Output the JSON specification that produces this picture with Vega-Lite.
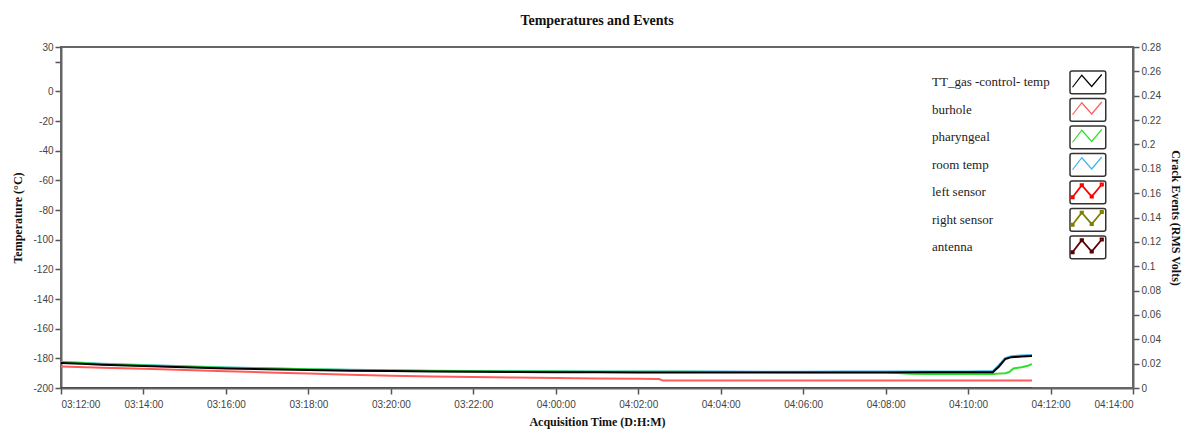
{
  "$schema": "https://vega.github.io/schema/vega-lite/v6.json",
  "width": 1072,
  "height": 341,
  "autosize": {"type": "none"},
  "padding": {"left": 61, "top": 47, "right": 54, "bottom": 45},
  "title": {"text": "Temperatures and Events", "font": "Liberation Serif", "fontSize": 14, "fontWeight": "bold", "color": "#111", "offset": 14, "anchor": "middle"},
  "datasets": {
    "temps": [
      {"t": "2000-01-03T12:00:00Z", "series": "burhole", "v": -185.5},
      {"t": "2000-01-03T13:00:00Z", "series": "burhole", "v": -186.3},
      {"t": "2000-01-03T14:00:00Z", "series": "burhole", "v": -187.1},
      {"t": "2000-01-03T15:00:00Z", "series": "burhole", "v": -187.9},
      {"t": "2000-01-03T16:00:00Z", "series": "burhole", "v": -188.7},
      {"t": "2000-01-03T17:00:00Z", "series": "burhole", "v": -189.5},
      {"t": "2000-01-03T18:00:00Z", "series": "burhole", "v": -190.3},
      {"t": "2000-01-03T19:00:00Z", "series": "burhole", "v": -191.0},
      {"t": "2000-01-03T20:00:00Z", "series": "burhole", "v": -191.7},
      {"t": "2000-01-03T21:00:00Z", "series": "burhole", "v": -192.2},
      {"t": "2000-01-03T22:00:00Z", "series": "burhole", "v": -192.6},
      {"t": "2000-01-03T23:00:00Z", "series": "burhole", "v": -193.0},
      {"t": "2000-01-04T00:00:00Z", "series": "burhole", "v": -193.3},
      {"t": "2000-01-04T01:00:00Z", "series": "burhole", "v": -193.6},
      {"t": "2000-01-04T02:00:00Z", "series": "burhole", "v": -193.8},
      {"t": "2000-01-04T02:30:00Z", "series": "burhole", "v": -193.9},
      {"t": "2000-01-04T02:36:00Z", "series": "burhole", "v": -195.0},
      {"t": "2000-01-04T04:00:00Z", "series": "burhole", "v": -195.0},
      {"t": "2000-01-04T08:00:00Z", "series": "burhole", "v": -195.0},
      {"t": "2000-01-04T11:33:00Z", "series": "burhole", "v": -195.0},

      {"t": "2000-01-03T12:00:00Z", "series": "room temp", "v": -182.4},
      {"t": "2000-01-03T12:30:00Z", "series": "room temp", "v": -183.0},
      {"t": "2000-01-03T13:00:00Z", "series": "room temp", "v": -183.6},
      {"t": "2000-01-03T14:00:00Z", "series": "room temp", "v": -184.5},
      {"t": "2000-01-03T15:00:00Z", "series": "room temp", "v": -185.4},
      {"t": "2000-01-03T16:00:00Z", "series": "room temp", "v": -186.2},
      {"t": "2000-01-03T17:00:00Z", "series": "room temp", "v": -186.7},
      {"t": "2000-01-03T18:00:00Z", "series": "room temp", "v": -187.3},
      {"t": "2000-01-03T19:00:00Z", "series": "room temp", "v": -187.7},
      {"t": "2000-01-03T20:00:00Z", "series": "room temp", "v": -188.0},
      {"t": "2000-01-03T21:00:00Z", "series": "room temp", "v": -188.3},
      {"t": "2000-01-03T22:00:00Z", "series": "room temp", "v": -188.5},
      {"t": "2000-01-03T23:00:00Z", "series": "room temp", "v": -188.6},
      {"t": "2000-01-04T00:00:00Z", "series": "room temp", "v": -188.7},
      {"t": "2000-01-04T01:00:00Z", "series": "room temp", "v": -188.8},
      {"t": "2000-01-04T02:00:00Z", "series": "room temp", "v": -188.9},
      {"t": "2000-01-04T03:00:00Z", "series": "room temp", "v": -188.9},
      {"t": "2000-01-04T04:00:00Z", "series": "room temp", "v": -188.9},
      {"t": "2000-01-04T05:00:00Z", "series": "room temp", "v": -189.0},
      {"t": "2000-01-04T06:00:00Z", "series": "room temp", "v": -189.0},
      {"t": "2000-01-04T07:00:00Z", "series": "room temp", "v": -188.9},
      {"t": "2000-01-04T08:00:00Z", "series": "room temp", "v": -188.9},
      {"t": "2000-01-04T09:00:00Z", "series": "room temp", "v": -188.8},
      {"t": "2000-01-04T10:00:00Z", "series": "room temp", "v": -188.8},
      {"t": "2000-01-04T10:36:00Z", "series": "room temp", "v": -188.6},
      {"t": "2000-01-04T10:45:00Z", "series": "room temp", "v": -184.5},
      {"t": "2000-01-04T10:54:00Z", "series": "room temp", "v": -179.8},
      {"t": "2000-01-04T11:03:00Z", "series": "room temp", "v": -178.5},
      {"t": "2000-01-04T11:18:00Z", "series": "room temp", "v": -178.0},
      {"t": "2000-01-04T11:33:00Z", "series": "room temp", "v": -177.7},

      {"t": "2000-01-03T12:00:00Z", "series": "pharyngeal", "v": -182.6},
      {"t": "2000-01-03T12:30:00Z", "series": "pharyngeal", "v": -183.2},
      {"t": "2000-01-03T13:00:00Z", "series": "pharyngeal", "v": -183.9},
      {"t": "2000-01-03T14:00:00Z", "series": "pharyngeal", "v": -184.8},
      {"t": "2000-01-03T15:00:00Z", "series": "pharyngeal", "v": -185.6},
      {"t": "2000-01-03T16:00:00Z", "series": "pharyngeal", "v": -186.3},
      {"t": "2000-01-03T17:00:00Z", "series": "pharyngeal", "v": -186.8},
      {"t": "2000-01-03T18:00:00Z", "series": "pharyngeal", "v": -187.4},
      {"t": "2000-01-03T19:00:00Z", "series": "pharyngeal", "v": -187.9},
      {"t": "2000-01-03T20:00:00Z", "series": "pharyngeal", "v": -188.2},
      {"t": "2000-01-03T21:00:00Z", "series": "pharyngeal", "v": -188.5},
      {"t": "2000-01-03T22:00:00Z", "series": "pharyngeal", "v": -188.7},
      {"t": "2000-01-03T23:00:00Z", "series": "pharyngeal", "v": -188.8},
      {"t": "2000-01-04T00:00:00Z", "series": "pharyngeal", "v": -188.9},
      {"t": "2000-01-04T01:00:00Z", "series": "pharyngeal", "v": -189.0},
      {"t": "2000-01-04T02:00:00Z", "series": "pharyngeal", "v": -189.1},
      {"t": "2000-01-04T03:00:00Z", "series": "pharyngeal", "v": -189.1},
      {"t": "2000-01-04T04:00:00Z", "series": "pharyngeal", "v": -189.2},
      {"t": "2000-01-04T05:00:00Z", "series": "pharyngeal", "v": -189.2},
      {"t": "2000-01-04T06:00:00Z", "series": "pharyngeal", "v": -189.3},
      {"t": "2000-01-04T08:00:00Z", "series": "pharyngeal", "v": -189.4},
      {"t": "2000-01-04T08:36:00Z", "series": "pharyngeal", "v": -190.4},
      {"t": "2000-01-04T09:00:00Z", "series": "pharyngeal", "v": -190.5},
      {"t": "2000-01-04T10:00:00Z", "series": "pharyngeal", "v": -190.5},
      {"t": "2000-01-04T10:36:00Z", "series": "pharyngeal", "v": -190.5},
      {"t": "2000-01-04T10:45:00Z", "series": "pharyngeal", "v": -190.3},
      {"t": "2000-01-04T10:54:00Z", "series": "pharyngeal", "v": -190.0},
      {"t": "2000-01-04T11:00:00Z", "series": "pharyngeal", "v": -189.2},
      {"t": "2000-01-04T11:06:00Z", "series": "pharyngeal", "v": -186.8},
      {"t": "2000-01-04T11:18:00Z", "series": "pharyngeal", "v": -186.0},
      {"t": "2000-01-04T11:27:00Z", "series": "pharyngeal", "v": -185.0},
      {"t": "2000-01-04T11:33:00Z", "series": "pharyngeal", "v": -183.9},

      {"t": "2000-01-03T12:00:00Z", "series": "TT_gas -control- temp", "v": -183.2},
      {"t": "2000-01-03T12:30:00Z", "series": "TT_gas -control- temp", "v": -183.7},
      {"t": "2000-01-03T13:00:00Z", "series": "TT_gas -control- temp", "v": -184.3},
      {"t": "2000-01-03T14:00:00Z", "series": "TT_gas -control- temp", "v": -185.2},
      {"t": "2000-01-03T15:00:00Z", "series": "TT_gas -control- temp", "v": -186.0},
      {"t": "2000-01-03T16:00:00Z", "series": "TT_gas -control- temp", "v": -186.8},
      {"t": "2000-01-03T17:00:00Z", "series": "TT_gas -control- temp", "v": -187.3},
      {"t": "2000-01-03T18:00:00Z", "series": "TT_gas -control- temp", "v": -187.9},
      {"t": "2000-01-03T19:00:00Z", "series": "TT_gas -control- temp", "v": -188.3},
      {"t": "2000-01-03T20:00:00Z", "series": "TT_gas -control- temp", "v": -188.6},
      {"t": "2000-01-03T21:00:00Z", "series": "TT_gas -control- temp", "v": -188.9},
      {"t": "2000-01-03T22:00:00Z", "series": "TT_gas -control- temp", "v": -189.1},
      {"t": "2000-01-03T23:00:00Z", "series": "TT_gas -control- temp", "v": -189.2},
      {"t": "2000-01-04T00:00:00Z", "series": "TT_gas -control- temp", "v": -189.3},
      {"t": "2000-01-04T01:00:00Z", "series": "TT_gas -control- temp", "v": -189.4},
      {"t": "2000-01-04T02:00:00Z", "series": "TT_gas -control- temp", "v": -189.5},
      {"t": "2000-01-04T03:00:00Z", "series": "TT_gas -control- temp", "v": -189.5},
      {"t": "2000-01-04T04:00:00Z", "series": "TT_gas -control- temp", "v": -189.5},
      {"t": "2000-01-04T05:00:00Z", "series": "TT_gas -control- temp", "v": -189.6},
      {"t": "2000-01-04T06:00:00Z", "series": "TT_gas -control- temp", "v": -189.6},
      {"t": "2000-01-04T07:00:00Z", "series": "TT_gas -control- temp", "v": -189.5},
      {"t": "2000-01-04T08:00:00Z", "series": "TT_gas -control- temp", "v": -189.5},
      {"t": "2000-01-04T09:00:00Z", "series": "TT_gas -control- temp", "v": -189.4},
      {"t": "2000-01-04T10:00:00Z", "series": "TT_gas -control- temp", "v": -189.4},
      {"t": "2000-01-04T10:36:00Z", "series": "TT_gas -control- temp", "v": -189.3},
      {"t": "2000-01-04T10:45:00Z", "series": "TT_gas -control- temp", "v": -185.5},
      {"t": "2000-01-04T10:54:00Z", "series": "TT_gas -control- temp", "v": -180.5},
      {"t": "2000-01-04T11:03:00Z", "series": "TT_gas -control- temp", "v": -179.2},
      {"t": "2000-01-04T11:18:00Z", "series": "TT_gas -control- temp", "v": -178.8},
      {"t": "2000-01-04T11:33:00Z", "series": "TT_gas -control- temp", "v": -178.4}
    ],
    "events": [
      {"t": "2000-01-03T12:00:00Z", "series": "left sensor", "v": 0},
      {"t": "2000-01-04T11:33:00Z", "series": "left sensor", "v": 0},
      {"t": "2000-01-03T12:00:00Z", "series": "right sensor", "v": 0},
      {"t": "2000-01-04T11:33:00Z", "series": "right sensor", "v": 0},
      {"t": "2000-01-03T12:00:00Z", "series": "antenna", "v": 0},
      {"t": "2000-01-04T11:33:00Z", "series": "antenna", "v": 0}
    ]
  },
  "layer": [
    {
      "data": {"name": "temps"},
      "mark": {"type": "line", "strokeWidth": 2},
      "encoding": {
        "x": {
          "field": "t", "type": "temporal",
          "scale": {"type": "utc", "domain": [
            {"year": 2000, "month": 1, "date": 3, "hours": 12, "utc": true},
            {"year": 2000, "month": 1, "date": 4, "hours": 14, "utc": true}
          ]},
          "axis": {
            "title": "Acquisition Time (D:H:M)",
            "format": "%d:%H:%M",
            "zindex": 1,
            "labelPadding": 5,
            "titlePadding": 7,
            "values": [
              {"year": 2000, "month": 1, "date": 3, "hours": 12, "utc": true},
              {"year": 2000, "month": 1, "date": 3, "hours": 14, "utc": true},
              {"year": 2000, "month": 1, "date": 3, "hours": 16, "utc": true},
              {"year": 2000, "month": 1, "date": 3, "hours": 18, "utc": true},
              {"year": 2000, "month": 1, "date": 3, "hours": 20, "utc": true},
              {"year": 2000, "month": 1, "date": 3, "hours": 22, "utc": true},
              {"year": 2000, "month": 1, "date": 4, "hours": 0, "utc": true},
              {"year": 2000, "month": 1, "date": 4, "hours": 2, "utc": true},
              {"year": 2000, "month": 1, "date": 4, "hours": 4, "utc": true},
              {"year": 2000, "month": 1, "date": 4, "hours": 6, "utc": true},
              {"year": 2000, "month": 1, "date": 4, "hours": 8, "utc": true},
              {"year": 2000, "month": 1, "date": 4, "hours": 10, "utc": true},
              {"year": 2000, "month": 1, "date": 4, "hours": 12, "utc": true},
              {"year": 2000, "month": 1, "date": 4, "hours": 14, "utc": true}
            ]
          }
        },
        "y": {
          "field": "v", "type": "quantitative",
          "scale": {"domain": [-200, 30], "nice": false, "zero": false},
          "axis": {
            "title": "Temperature (°C)",
            "values": [-200, -180, -160, -140, -120, -100, -80, -60, -40, -20, 0, 20, 30],
            "labelExpr": "datum.value == 20 ? '' : replace(datum.label, '−', '-')",
            "labelPadding": 2,
            "titlePadding": 8
          }
        },
        "color": {
          "field": "series", "type": "nominal",
          "scale": {
            "domain": ["TT_gas -control- temp", "burhole", "pharyngeal", "room temp", "left sensor", "right sensor", "antenna"],
            "range": ["#000000", "#ff5a5a", "#2ee02e", "#3fb4ea", "#ff0000", "#808000", "#5a0000"]
          },
          "legend": {
            "title": null,
            "orient": "none",
            "legendX": 1009,
            "legendY": 24,
            "zindex": 2,
            "labelFont": "Liberation Serif",
            "labelFontSize": 13,
            "labelColor": "#222",
            "labelLimit": 300,
            "symbolType": "M-1,0.35L-0.38,-0.45L0.28,0.3L0.95,-0.5",
            "symbolSize": 900,
            "symbolStrokeWidth": 1.2,
            "clipHeight": 22,
            "rowPadding": 3.5,
            "encode": {
              "entries": {"update": {
                "stroke": {"value": "#333"},
                "strokeWidth": {"value": 1.5},
                "width": {"value": 35},
                "height": {"value": 22},
                "cornerRadius": {"value": 2}
              }},
              "symbols": {"update": {
                "x": {"value": 17.5},
                "shape": {"signal": "indexof(['left sensor','right sensor','antenna'], datum.value) >= 0 ? 'M-1,0.35L-0.38,-0.45L0.28,0.3L0.95,-0.5M-1.08,0.27h0.16v0.16h-0.16zM-0.46,-0.53h0.16v0.16h-0.16zM0.2,0.22h0.16v0.16h-0.16zM0.87,-0.58h0.16v0.16h-0.16z' : 'M-1,0.35L-0.38,-0.45L0.28,0.3L0.95,-0.5'"},
                "strokeWidth": {"signal": "indexof(['left sensor','right sensor','antenna'], datum.value) >= 0 ? 1.8 : 1.2"}
              }},
              "labels": {"update": {
                "x": {"value": -138}
              }}
            }
          }
        }
      }
    },
    {
      "data": {"name": "events"},
      "mark": {"type": "line", "strokeWidth": 1.5},
      "encoding": {
        "x": {"field": "t", "type": "temporal"},
        "y": {
          "field": "v", "type": "quantitative",
          "scale": {"domain": [0, 0.28], "nice": false},
          "axis": {
            "orient": "right",
            "title": "Crack Events (RMS Volts)",
            "titleAngle": 90,
            "values": [0, 0.02, 0.04, 0.06, 0.08, 0.1, 0.12, 0.14, 0.16, 0.18, 0.2, 0.22, 0.24, 0.26, 0.28],
            "format": ".2~f",
            "labelPadding": 2,
            "titlePadding": 8,
            "zindex": 1
          }
        },
        "color": {"field": "series", "type": "nominal"}
      }
    }
  ],
  "resolve": {"scale": {"y": "independent"}},
  "config": {
    "view": {"stroke": "#666", "strokeWidth": 2},
    "axis": {
      "grid": false,
      "domainColor": "#666",
      "domainWidth": 2,
      "tickColor": "#555",
      "tickWidth": 1.5,
      "tickSize": 6,
      "labelFont": "Liberation Sans",
      "labelFontSize": 10,
      "labelColor": "#444",
      "titleFont": "Liberation Serif",
      "titleFontWeight": "bold",
      "titleFontSize": 12,
      "titleColor": "#111"
    }
  }
}
